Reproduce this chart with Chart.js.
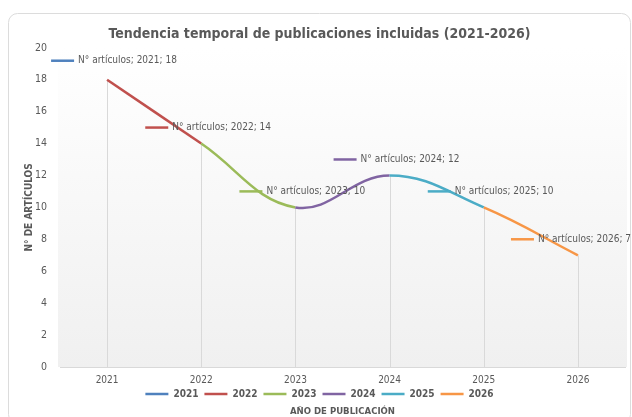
<!DOCTYPE html>
<html lang="es">
<head>
    <meta charset="utf-8" />
    <title>Tendencia temporal</title>
    <script src="https://cdn.jsdelivr.net/npm/chart.js@4.4.0/dist/chart.umd.min.js"></script>
    <style>
        html, body { margin: 0; padding: 0; background: #fff; }
        #wrap { position: relative; width: 632px; height: 417px; }
    </style>
</head>
<body>
<div id="wrap"><canvas id="grafico" width="632" height="417"></canvas></div>
<script>
    // Datos del gráfico
    const years = ['2021', '2022', '2023', '2024', '2025', '2026'];
    const articulos = [18, 14, 10, 12, 10, 7];
    const serieNombre = 'N° artículos';
    const yTicks = [0, 2, 4, 6, 8, 10, 12, 14, 16, 18, 20];

    // Paleta tipo Office 2010
    const colores = ['#4F81BD', '#C0504D', '#9BBB59', '#8064A2', '#4BACC6', '#F79646'];
    const texto = '#595959';
    const fuente = "'Liberation Sans Narrow', 'DejaVu Sans Condensed', 'Liberation Sans', sans-serif";

    // Fondo: tarjeta redondeada y degradado del área de trazado
    const fondo = {
        id: 'fondo',
        beforeDraw(chart) {
            const ctx = chart.ctx;
            const a = chart.chartArea;
            ctx.save();
            ctx.fillStyle = '#fff';
            ctx.fillRect(0, 0, chart.width, chart.height);
            ctx.strokeStyle = '#dcdcdc';
            ctx.lineWidth = 1;
            ctx.beginPath();
            ctx.roundRect(8.5, 13.5, 622, 410, 9);
            ctx.stroke();
            const g = ctx.createLinearGradient(0, a.top, 0, a.bottom);
            g.addColorStop(0, '#ffffff');
            g.addColorStop(1, '#f0f0f0');
            ctx.fillStyle = g;
            ctx.fillRect(a.left - 2, a.top - 30, a.right - a.left + 4, a.bottom - a.top + 30);
            ctx.restore();
        }
    };

    // Subir un poco la leyenda, pegada a las etiquetas del eje X
    const leyendaArriba = {
        id: 'leyendaArriba',
        afterLayout(chart) {
            chart.legend.top -= 10;
            chart.legend.bottom -= 10;
        }
    };

    // Líneas de proyección desde cada punto hasta el eje
    const proyeccion = {
        id: 'proyeccion',
        beforeDatasetsDraw(chart) {
            const ctx = chart.ctx;
            const meta = chart.getDatasetMeta(0);
            ctx.save();
            ctx.strokeStyle = '#d9d9d9';
            ctx.lineWidth = 1;
            meta.data.forEach(p => {
                const x = Math.round(p.x) + 0.5;
                ctx.beginPath();
                ctx.moveTo(x, p.y);
                ctx.lineTo(x, chart.chartArea.bottom);
                ctx.stroke();
            });
            ctx.restore();
        }
    };

    // Etiquetas de datos con clave de leyenda (estilo Excel)
    const etiquetas = {
        id: 'etiquetas',
        afterDatasetsDraw(chart) {
            const ctx = chart.ctx;
            const meta = chart.getDatasetMeta(0);
            ctx.save();
            ctx.font = '10px ' + fuente;
            ctx.textBaseline = 'middle';
            meta.data.forEach((p, i) => {
                const txt = serieNombre + '; ' + years[i] + '; ' + articulos[i];
                const dy = i === 0 ? -19 : -16;
                const y = p.y + dy;
                // si no cabe, se desplaza hacia la izquierda
                const sobra = Math.max(0, p.x - 29 + ctx.measureText(txt).width - (chart.width - 1));
                const x = p.x - sobra;
                ctx.strokeStyle = colores[i];
                ctx.lineWidth = 2.5;
                ctx.beginPath();
                ctx.moveTo(x - 56, y);
                ctx.lineTo(x - 33, y);
                ctx.stroke();
                ctx.fillStyle = texto;
                ctx.fillText(txt, x - 29, y);
            });
            ctx.restore();
        }
    };

    // Título del eje X, debajo de la leyenda
    const tituloX = {
        id: 'tituloX',
        afterDraw(chart) {
            const ctx = chart.ctx;
            const a = chart.chartArea;
            ctx.save();
            ctx.font = 'bold 9.5px ' + fuente;
            ctx.fillStyle = texto;
            ctx.textAlign = 'center';
            ctx.textBaseline = 'middle';
            ctx.fillText('AÑO DE PUBLICACIÓN', (a.left + a.right) / 2, 412);
            ctx.restore();
        }
    };

    new Chart(document.getElementById('grafico'), {
        type: 'line',
        data: {
            labels: years,
            datasets: [{
                label: serieNombre,
                data: articulos,
                borderWidth: 2.5,
                tension: 0.4,
                pointRadius: 0,
                pointHoverRadius: 0,
                borderColor: colores[1],
                segment: {
                    borderColor: c => colores[c.p1DataIndex]
                }
            }]
        },
        options: {
            responsive: false,
            animation: false,
            devicePixelRatio: 1,
            layout: { padding: { top: 26, left: 14, right: 7, bottom: -2 } },
            scales: {
                x: {
                    offset: true,
                    grid: { display: false, drawTicks: false },
                    border: { color: '#d9d9d9' },
                    ticks: { color: texto, font: { family: fuente, size: 10 }, padding: 7 }
                },
                y: {
                    min: 0,
                    max: 20,
                    afterBuildTicks: s => { s.ticks = yTicks.map(v => ({ value: v })); },
                    afterFit: s => { s.width = 46; },
                    grid: { display: false, drawTicks: false },
                    border: { display: false },
                    ticks: { color: texto, font: { family: fuente, size: 10.5 }, padding: 13 },
                    title: {
                        display: true,
                        text: 'N° DE ARTÍCULOS',
                        color: texto,
                        font: { family: fuente, size: 10, weight: 'bold' },
                        padding: { top: 9, bottom: 0 }
                    }
                }
            },
            plugins: {
                title: {
                    display: true,
                    text: 'Tendencia temporal de publicaciones incluidas (2021-2026)',
                    color: texto,
                    font: { family: fuente, size: 14, weight: 'bold' },
                    padding: { top: 0, bottom: 5 }
                },
                legend: {
                    position: 'bottom',
                    labels: {
                        color: texto,
                        font: { family: fuente, size: 10, weight: 'bold' },
                        usePointStyle: true,
                        pointStyleWidth: 23,
                        padding: 6,
                        generateLabels: () => years.map((y, i) => ({
                            text: y,
                            fillStyle: colores[i],
                            strokeStyle: colores[i],
                            lineWidth: 2.5,
                            pointStyle: 'line',
                            hidden: false,
                            datasetIndex: 0,
                            fontColor: texto
                        }))
                    }
                },
                tooltip: { enabled: false }
            }
        },
        plugins: [fondo, leyendaArriba, proyeccion, etiquetas, tituloX]
    });
</script>
</body>
</html>
